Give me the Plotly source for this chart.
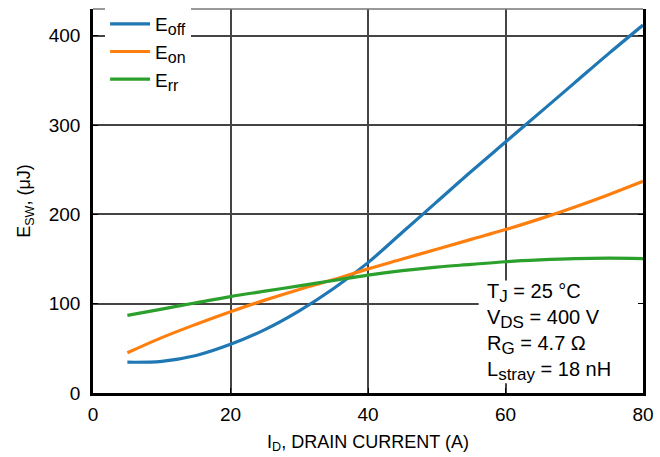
import plotly.graph_objects as go

current = [5, 10, 15, 20, 25, 30, 35, 40, 45, 50, 55, 60, 65, 70, 75, 80]
e_off = [34.5, 35.5, 42, 54.5, 71, 92, 117, 146, 180, 214, 248, 281, 314, 347, 380, 412]
e_on = [45, 62, 77, 91, 104, 116, 127, 139, 150, 161, 172, 183, 195, 208, 222, 237]
e_rr = [87, 94, 101, 108, 114, 120, 126, 132, 137, 141, 144, 147, 149, 150.5, 151, 150.5]

LSUB = "<sub><span style='font-size:16px'>{}</span></sub>"
series_names = ["E" + LSUB.format("off"), "E" + LSUB.format("on"), "E" + LSUB.format("rr")]
series_colors = ["#1f77b4", "#ff7f0e", "#2ca02c"]

x_ticks = [0, 20, 40, 60, 80]
y_ticks = [0, 100, 200, 300, 400]

SUB = "<sub><span style='font-size:17px'>{}</span></sub>"
conditions = ["T" + SUB.format("J") + " = 25 °C",
              "V" + SUB.format("DS") + " = 400 V",
              "R" + SUB.format("G") + " = 4.7 Ω",
              "L" + SUB.format("stray") + " = 18 nH"]

FONT = "Liberation Sans, Arial, sans-serif"

fig = go.Figure()
for name, vals, col in zip(series_names, [e_off, e_on, e_rr], series_colors):
    fig.add_trace(go.Scatter(x=current, y=vals, mode="lines", name=name,
                             line=dict(color=col, width=3.2, shape="spline", smoothing=1.0)))

grid_col = "#444444"
fig.update_layout(
    width=660, height=457,
    margin=dict(l=93, r=17, t=9, b=64, autoexpand=False),
    paper_bgcolor="white", plot_bgcolor="white",
    font=dict(family=FONT, size=18, color="black"),
    showlegend=True,
    legend=dict(x=0.022, y=1.0105, xanchor="left", yanchor="top", bgcolor="white",
                font=dict(size=19), tracegroupgap=0, itemwidth=40,
                borderwidth=0),
    xaxis=dict(range=[0, 80], tickvals=x_ticks, showgrid=True, gridcolor=grid_col,
               gridwidth=1.5, showline=True, linecolor="black", linewidth=2.5,
               ticks="inside", ticklen=5, tickcolor="black", zeroline=False,
               automargin=False, ticklabelstandoff=2,
               title=dict(text="I<sub>D</sub>, DRAIN CURRENT (A)", standoff=12,
                          font=dict(size=18)),
               tickfont=dict(size=19)),
    yaxis=dict(range=[0, 430], tickvals=y_ticks, showgrid=True, gridcolor=grid_col,
               gridwidth=1.5, showline=True, linecolor="black", linewidth=2.5,
               mirror="allticks", automargin=False,
               ticks="inside", ticklen=5, tickcolor="black", zeroline=False,
               ticklabelstandoff=6,
               title=dict(text="E<sub>SW</sub>, (μJ)", standoff=14,
                          font=dict(size=18)),
               tickfont=dict(size=19)),
)

# top frame line (gray)
fig.add_shape(type="line", xref="paper", yref="paper", x0=0, x1=1, y0=1, y1=1,
              line=dict(color="#777777", width=1.5))

# white box behind the test-condition text (covers gridlines)
fig.add_shape(type="rect", xref="x", yref="y", x0=56.1, x1=80, y0=11, y1=126,
              fillcolor="white", line=dict(width=0), layer="between")

fig.add_annotation(
    xref="x", yref="y", x=56.8, y=129.5, xanchor="left", yanchor="top",
    text="<br>".join(conditions),
    align="left", showarrow=False, borderpad=2,
    font=dict(size=20, family=FONT),
)

fig.write_html("out.html", post_script="document.body.style.margin='0';",
               config={"displayModeBar": False})
